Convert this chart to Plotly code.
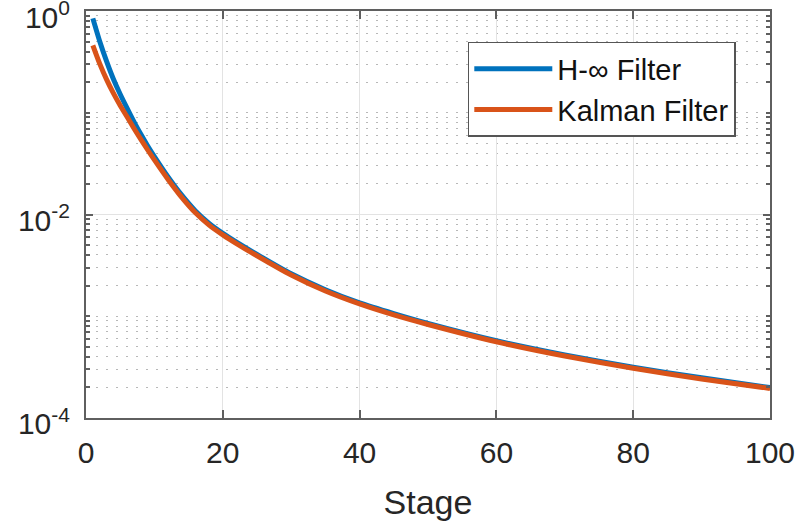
import plotly.graph_objects as go

# ---- data ----
stage = [1, 2, 3, 4, 5, 6, 7, 8, 9, 10, 12, 14, 16, 18, 20, 22, 25, 30, 35, 40, 45, 50, 60, 70, 80, 90, 100]
hinf = [0.847, 0.505, 0.322, 0.215, 0.152, 0.111, 0.0818, 0.0617, 0.0474, 0.0371, 0.0234, 0.01549,
        0.01084, 0.00818, 0.00653, 0.00535, 0.00405, 0.00261, 0.00182, 0.00135, 0.00106, 0.000849,
        0.000574, 0.000416, 0.000315, 0.000248, 0.000199]
kalman = [0.460, 0.304, 0.213, 0.156, 0.118, 0.0914, 0.0705, 0.0550, 0.0433, 0.0344, 0.0221, 0.01472,
          0.01038, 0.00787, 0.00631, 0.00518, 0.00393, 0.00254, 0.00177, 0.00132, 0.00103, 0.000830,
          0.000561, 0.000406, 0.000308, 0.000242, 0.000195]

series_names = ["H-∞ Filter", "Kalman Filter"]
x_ticks = [0, 20, 40, 60, 80, 100]
y_ticks = [1e-4, 1e-2, 1e0]
y_tick_labels = ["10<sup>-4</sup>", "10<sup>-2</sup>", "10<sup>0</sup>"]
y_minor = [m * 10.0 ** e for e in (-4, -3, -2, -1) for m in (2, 3, 4, 5, 6, 7, 8, 9)] + [1e-3, 1e-1]
x_label = "Stage"

FONT = "Liberation Sans, Arial, Helvetica, sans-serif"
BLUE = "#0072BD"
ORANGE = "#D95319"
AXC = "#5f5f5f"

fig = go.Figure()
fig.add_trace(go.Scatter(x=stage, y=hinf, mode="lines", name=series_names[0],
                         line=dict(color=BLUE, width=5, shape="spline", smoothing=0.6)))
fig.add_trace(go.Scatter(x=stage, y=kalman, mode="lines", name=series_names[1],
                         line=dict(color=ORANGE, width=5, shape="spline", smoothing=0.6)))

fig.update_layout(
    width=811, height=523,
    margin=dict(l=86, r=41, t=11, b=105, autoexpand=False),
    paper_bgcolor="white", plot_bgcolor="white",
    font=dict(family=FONT, size=30, color="#262626"),
    showlegend=True,
    legend=dict(x=0.95, y=0.924, xanchor="right", yanchor="top",
                bgcolor="white", bordercolor="#555555", borderwidth=1.5,
                font=dict(family=FONT, size=29, color="#111111"),
                itemwidth=78, tracegroupgap=0),
)

fig.update_xaxes(
    range=[0, 100], tickvals=x_ticks, automargin=False,
    ticks="inside", ticklen=8, tickwidth=1.5, tickcolor=AXC,
    showline=True, linecolor=AXC, linewidth=2, mirror="allticks",
    showgrid=True, gridcolor="#e3e3e3", gridwidth=1, zeroline=False,
    tickfont=dict(family=FONT, size=30, color="#262626"),
    ticklabelstandoff=7,
    title=dict(text=x_label, font=dict(family=FONT, size=34, color="#262626"), standoff=22),
)
fig.update_yaxes(
    type="log", range=[-4.0005, 0.0005], automargin=False,
    tickmode="array", tickvals=y_ticks, ticktext=y_tick_labels,
    ticks="inside", ticklen=7, tickwidth=1.5, tickcolor=AXC,
    showline=True, linecolor=AXC, linewidth=2, mirror="allticks",
    showgrid=True, gridcolor="#e3e3e3", gridwidth=1, zeroline=False,
    tickfont=dict(family=FONT, size=30, color="#262626"),
    ticklabelstandoff=8, ticklabelshift=6, ticklabeloverflow="allow",
    minor=dict(tickmode="array", tickvals=y_minor, ticks="inside", ticklen=4, tickcolor=AXC,
               showgrid=True, gridcolor="#b8b8b8", gridwidth=1, griddash="2px,8px"),
)

# remove the page's default 8px body margin so the figure fills the window exactly
fig.write_html("out.html", config={"displayModeBar": False},
               post_script="document.body.style.margin='0px';")
